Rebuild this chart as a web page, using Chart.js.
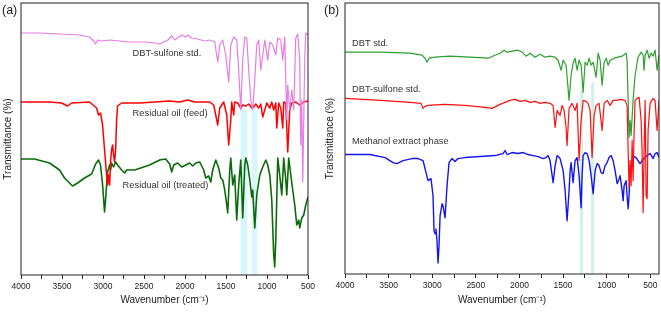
<!DOCTYPE html>
<html>
<head>
<meta charset="utf-8">
<script src="https://cdn.jsdelivr.net/npm/chart.js@4/dist/chart.umd.min.js"></script>
<style>
    body { margin: 0; background: #fff; width: 661px; height: 316px; position: relative; overflow: hidden; font-family: "Liberation Sans", Arial, sans-serif; }
    canvas { position: absolute; top: 0; }
    #chartA { left: 0; }
    #chartB { left: 322px; }
    .tag { position: absolute; top: 3px; font-size: 12.5px; color: #222; }
</style>
</head>
<body>
<canvas id="chartA" width="322" height="316"></canvas>
<canvas id="chartB" width="339" height="316"></canvas>
<div class="tag" style="left:2px">(a)</div>
<div class="tag" style="left:324px">(b)</div>
<script>
// ---- panel (a): DBT-sulfone std. / residual oil feed / residual oil treated ----
const sulfoneWnA = [4000,3774,3530,3286,3164,3115,3090,3066,3030,2920,2675,2492,2370,2309,2211,2162,2126,2040,1991,1967,1918,1845,1760,1698,1637,1601,1576,1540,1503,1467,1442,1406,1369,1345,1320,1296,1271,1247,1223,1198,1174,1149,1125,1101,1076,1052,1027,991,966,930,893,869,832,808,784,771,759,747,723,698,674,649,625,601,589,576,564,540,527,500];
const sulfoneTA = [242,242,241,240,238,234,231,235,234,235,233,233,232,231,235,239,235,240,238,240,237,236,234,235,233,213,230,235,220,193,230,238,235,205,165,215,238,237,205,175,165,195,230,235,205,220,235,215,233,230,220,237,235,215,238,195,155,190,165,185,165,237,241,215,130,175,93,215,242,240];

const feedWnA = [4000,3652,3505,3432,3383,3164,3078,3054,3030,3005,2981,2956,2944,2932,2919,2907,2895,2883,2871,2859,2846,2834,2822,2773,2553,2187,2065,1967,1882,1698,1650,1625,1601,1576,1528,1491,1467,1442,1430,1406,1394,1357,1320,1296,1259,1223,1186,1162,1137,1101,1076,1052,1027,1003,966,942,918,893,881,857,832,808,796,771,747,723,698,649,601,552,500];
const feedTA = [173,173,172,169,172,173,167,160,162,150,125,100,90,100,90,115,125,130,120,113,125,155,169,172,172,174,173,175,173,173,170,160,150,167,173,160,130,155,173,160,173,172,167,170,169,171,167,168,171,167,171,158,165,172,167,173,165,172,147,172,167,147,173,172,123,165,172,173,170,173,174];

const treatedWnA = [4000,3835,3652,3530,3469,3408,3371,3310,3225,3139,3090,3054,3030,3005,2981,2969,2944,2919,2907,2895,2871,2846,2822,2773,2736,2712,2614,2431,2309,2236,2187,2162,2138,2089,2040,1991,1943,1906,1869,1820,1772,1747,1711,1686,1662,1625,1589,1564,1540,1515,1491,1479,1454,1442,1418,1394,1369,1345,1320,1296,1271,1259,1235,1210,1186,1174,1149,1125,1088,1052,1015,991,966,942,918,906,893,869,845,820,796,771,759,735,710,686,662,637,613,601,576,552,527,500];
const treatedTA = [116,116,112,105,97,92,89,92,97,101,111,115,110,90,63,75,103,110,105,112,108,113,110,105,102,105,105,110,115,116,111,103,110,112,108,110,112,109,112,113,105,97,99,93,105,115,107,97,95,85,70,62,105,117,90,100,55,90,115,57,110,117,110,95,78,85,47,80,100,108,115,110,100,75,20,8,35,117,100,80,117,95,80,117,100,85,70,50,55,47,57,60,70,78];

// ---- panel (b): DBT std. / DBT-sulfone std. / methanol extract phase ----
const dbtWnB = [4000,3599,3254,3117,3082,3059,3037,2968,2796,2566,2360,2280,2222,2176,2142,2085,2016,1970,1924,1878,1821,1763,1706,1649,1592,1557,1522,1499,1465,1431,1408,1385,1362,1339,1316,1293,1270,1247,1224,1201,1178,1155,1121,1098,1075,1052,1029,1006,983,960,915,869,823,777,766,754,743,731,720,697,674,640,605,582,571,559,536,513,491,468,445,422,400];
const dbtTB = [221,221,220,218,215,211,215,216,217,216,215,218,220,223,221,222,223,221,217,220,216,219,216,217,216,213,203,213,208,173,198,210,215,203,213,208,181,211,208,215,208,211,196,220,213,188,211,215,208,213,215,216,217,220,213,173,136,153,138,173,198,216,221,218,203,218,223,215,220,217,223,203,218];

const sulfoneWnB = [4000,3599,3254,3128,3105,3082,3048,2853,2624,2394,2314,2222,2165,2107,2050,1993,1935,1878,1821,1763,1706,1649,1614,1591,1568,1534,1511,1488,1465,1454,1431,1396,1362,1339,1316,1293,1270,1236,1213,1190,1167,1144,1121,1087,1052,1029,995,960,926,880,834,789,766,754,743,731,720,708,697,685,674,651,628,605,594,582,571,559,548,536,525,502,468,445,422,400];
const sulfoneTB = [175,173,171,170,165,167,168,169,168,166,165,169,171,173,174,172,173,171,172,170,171,170,168,146,163,158,168,163,146,128,165,170,163,170,113,153,173,172,170,163,116,158,168,170,143,170,173,168,173,173,174,173,168,123,86,113,88,133,93,143,173,175,176,153,123,61,123,173,78,75,143,170,175,173,143,173];

const extractWnB = [4000,3713,3541,3449,3404,3335,3231,3163,3105,3071,3048,3014,2991,2979,2968,2957,2945,2933,2922,2910,2887,2876,2853,2830,2807,2773,2738,2704,2624,2452,2280,2188,2165,2142,2085,2016,1958,1901,1844,1786,1729,1695,1672,1649,1614,1591,1568,1534,1499,1476,1454,1431,1419,1408,1385,1362,1339,1316,1293,1282,1270,1247,1224,1201,1178,1155,1132,1109,1087,1064,1041,1018,995,972,949,926,903,880,857,846,823,811,800,777,766,754,743,731,708,685,663,640,617,594,559,525,502,479,468,445,422,400];
const extractTB = [119,119,116,111,110,113,115,115,113,101,93,95,78,43,40,45,33,11,28,58,70,68,56,88,111,115,112,115,116,117,118,120,123,119,121,120,121,119,118,117,115,116,118,113,91,108,118,115,103,83,53,83,103,111,91,113,116,98,66,98,118,121,120,113,98,80,103,110,108,101,100,108,111,116,118,113,103,90,95,98,83,73,88,93,78,65,78,103,113,117,116,113,110,113,116,119,120,117,115,120,121,116];

// highlighted S=O bands [from, to, top]
const bandsA = [[1323, 1238, 165], [1189, 1116, 165]];
const bandsB = [[1305, 1270, 183], [1178, 1144, 191]];

const FONT = '"Liberation Sans", Arial, sans-serif';
const INK = '#222';

function toPoints(wn, t) {
    return wn.map((w, i) => ({ x: w, y: t[i] }));
}

function line(label, wn, t, color, width) {
    return {
        label: label,
        data: toPoints(wn, t),
        borderColor: color,
        borderWidth: width,
        pointRadius: 0,
        tension: 0,
        borderJoinStyle: 'round',
        fill: false
    };
}

// light bands behind the curves, the frame box and the curve names
const decorPlugin = {
    id: 'decor',
    beforeDatasetsDraw(chart, args, opts) {
        const {ctx, chartArea, scales} = chart;
        ctx.save();
        ctx.fillStyle = opts.bandColor;
        opts.bands.forEach(([a, b, top]) => {
            let x1 = scales.x.getPixelForValue(a), x2 = scales.x.getPixelForValue(b);
            let y1 = scales.y.getPixelForValue(top);
            ctx.fillRect(Math.min(x1, x2), y1, Math.abs(x2 - x1), chartArea.bottom - y1);
        });
        ctx.restore();
    },
    afterDatasetsDraw(chart, args, opts) {
        const {ctx, chartArea, scales} = chart;
        ctx.save();
        ctx.strokeStyle = INK;
        ctx.lineWidth = 1;
        ctx.strokeRect(chartArea.left, chartArea.top, chartArea.right - chartArea.left, chartArea.bottom - chartArea.top);
        ctx.fillStyle = '#333';
        ctx.font = '9.3px ' + FONT;
        ctx.textAlign = 'left';
        ctx.textBaseline = 'middle';
        opts.labels.forEach((l) => {
            ctx.fillText(l.text, scales.x.getPixelForValue(l.wn), scales.y.getPixelForValue(l.t));
        });
        ctx.restore();
    }
};

function makeChart(id, datasets, xMin, yMax, yWidth, xHeight, padRight, bands, bandColor, labels) {
    return new Chart(document.getElementById(id), {
        type: 'line',
        data: { datasets: datasets },
        options: {
            responsive: false,
            animation: false,
            devicePixelRatio: 1,
            layout: { padding: { left: 0, top: 3, right: padRight, bottom: 0 } },
            plugins: {
                legend: { display: false },
                tooltip: { enabled: false },
                decor: { bands: bands, bandColor: bandColor, labels: labels }
            },
            scales: {
                x: {
                    type: 'linear',
                    reverse: true,
                    min: xMin,
                    max: 4000,
                    afterBuildTicks: (s) => {
                        let t = [];
                        for (let v = 500; v <= 4000; v += 250) t.push({ value: v });
                        s.ticks = t;
                    },
                    afterFit: (s) => { s.height = xHeight; },
                    ticks: {
                        autoSkip: false,
                        maxRotation: 0,
                        padding: 3,
                        color: INK,
                        font: { family: FONT, size: 8.5 },
                        callback: (v) => (v % 500 === 0 ? v : '')
                    },
                    grid: { display: true, drawOnChartArea: false, drawTicks: true, tickLength: 4, color: INK },
                    border: { display: false },
                    title: {
                        display: true,
                        text: 'Wavenumber (cm⁻¹)',
                        color: INK,
                        font: { family: FONT, size: 10 },
                        padding: { top: 0, bottom: 10 }
                    }
                },
                y: {
                    min: 0,
                    max: yMax,
                    afterFit: (s) => { s.width = yWidth; },
                    ticks: { display: false },
                    grid: { display: false },
                    border: { display: false },
                    title: {
                        display: true,
                        text: 'Transmittance (%)',
                        color: INK,
                        font: { family: FONT, size: 10 },
                        padding: { top: 2, bottom: 0 }
                    }
                }
            }
        },
        plugins: [decorPlugin]
    });
}

makeChart('chartA', [
        line('DBT-sulfone std.', sulfoneWnA, sulfoneTA, '#e57de5', 1.2),
        line('Residual oil (feed)', feedWnA, feedTA, '#ff0000', 1.5),
        line('Residual oil (treated)', treatedWnA, treatedTA, '#0b6b0b', 1.6)
    ], 500, 272, 21, 41, 14, bandsA, '#d9f6fb', [
        { text: 'DBT-sulfone std.', wn: 2639, t: 222 },
        { text: 'Residual oil (feed)', wn: 2639, t: 162 },
        { text: 'Residual oil (treated)', wn: 2761, t: 90 }
    ]);

makeChart('chartB', [
        line('DBT std.', dbtWnB, dbtTB, '#2ca02c', 1.2),
        line('DBT-sulfone std.', sulfoneWnB, sulfoneTB, '#ff1010', 1.2),
        line('Methanol extract phase', extractWnB, extractTB, '#1414ee', 1.4)
    ], 400, 270, 23, 42, 2, bandsB, '#d2f2e8', [
        { text: 'DBT std.', wn: 3920, t: 230 },
        { text: 'DBT-sulfone std.', wn: 3920, t: 184 },
        { text: 'Methanol extract phase', wn: 3920, t: 132 }
    ]);
</script>
</body>
</html>
